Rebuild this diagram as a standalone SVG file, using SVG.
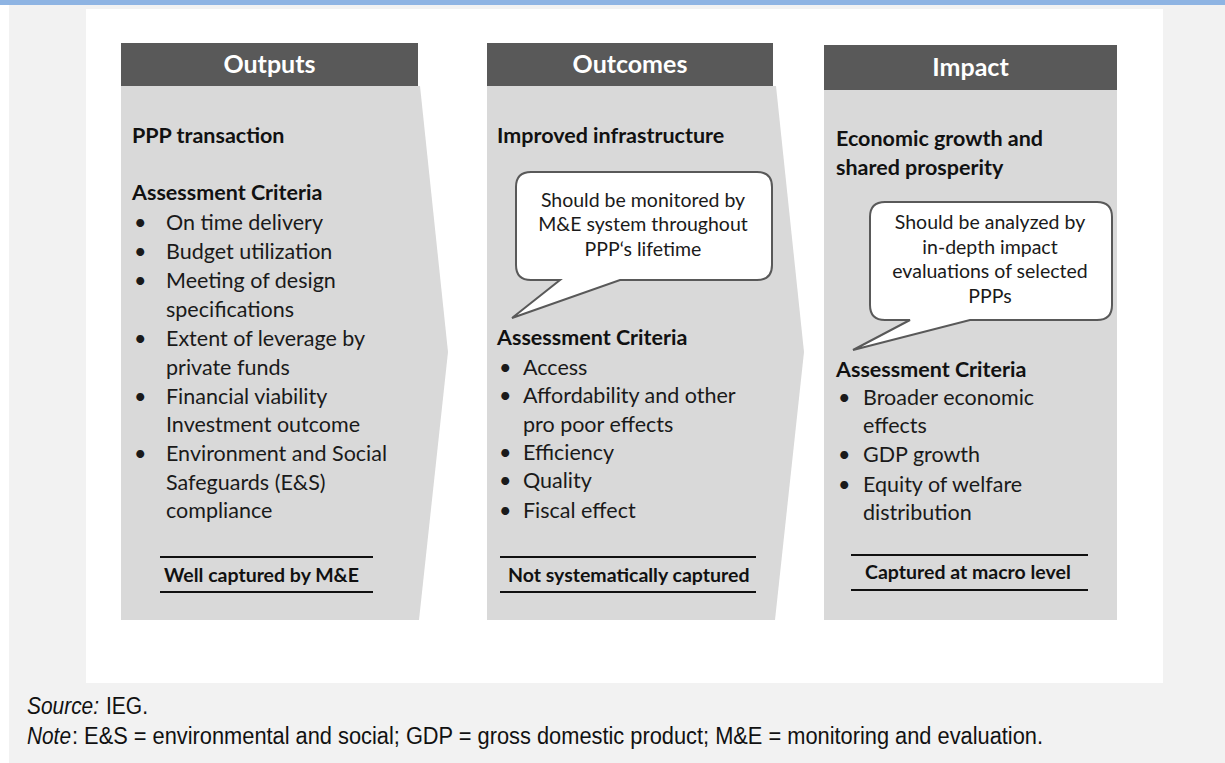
<svg xmlns="http://www.w3.org/2000/svg" width="1225" height="763" viewBox="0 0 1225 763">
<style>
.hdr{fill:#595959}
.body{fill:#d9d9d9}
.ht{font-family:Lato,"Open Sans",sans-serif;font-weight:bold;font-size:25px;fill:#ffffff;text-anchor:middle}
.b{font-family:Lato,"Open Sans",sans-serif;font-weight:bold;font-size:21.5px;fill:#111}
.t{font-family:Lato,"Open Sans",sans-serif;font-size:21.5px;fill:#1a1a1a}
.c{font-family:Lato,"Open Sans",sans-serif;font-size:19.5px;fill:#1a1a1a;text-anchor:middle}
.cap{font-family:Lato,"Open Sans",sans-serif;font-weight:bold;font-size:19.5px;fill:#111}
.bub{fill:#ffffff;stroke:#595959;stroke-width:2}
.rule{stroke:#111;stroke-width:2}
.foot{font-family:"Liberation Sans Narrow","Liberation Sans",sans-serif;font-size:23px;fill:#111}
.it{font-style:italic}
</style>
<rect x="0" y="0" width="1225" height="763" fill="#f2f2f2"/>
<rect x="0" y="5" width="9" height="758" fill="#ffffff"/>
<rect x="0" y="0" width="1225" height="5" fill="#8eb4e3"/>
<rect x="86" y="9" width="1077" height="674" fill="#ffffff"/>

<g id="outputs">
<polygon class="body" points="121,86 420,86 448,352 419,620 121,620"/>
<rect class="hdr" x="121" y="43" width="297" height="43"/>
<text class="ht" x="269.5" y="73">Outputs</text>
<text class="b" x="132" y="143">PPP transaction</text>
<text class="b" x="132" y="200">Assessment Criteria</text>
<g class="t">
<text x="134" y="230">•</text><text x="166" y="230">On time delivery</text>
<text x="134" y="259">•</text><text x="166" y="259">Budget utilization</text>
<text x="134" y="288">•</text><text x="166" y="288">Meeting of design</text>
<text x="166" y="317">specifications</text>
<text x="134" y="346">•</text><text x="166" y="346">Extent of leverage by</text>
<text x="166" y="375">private funds</text>
<text x="134" y="404">•</text><text x="166" y="404">Financial viability</text>
<text x="166" y="432">Investment outcome</text>
<text x="134" y="461">•</text><text x="166" y="461">Environment and Social</text>
<text x="166" y="490">Safeguards (E&amp;S)</text>
<text x="166" y="518">compliance</text>
</g>
<line class="rule" x1="160" y1="557" x2="373" y2="557"/>
<text class="cap" x="164" y="582">Well captured by M&amp;E</text>
<line class="rule" x1="160" y1="592" x2="373" y2="592"/>
</g>

<g id="outcomes">
<polygon class="body" points="487,86 776,86 804,352 775,620 487,620"/>
<rect class="hdr" x="487" y="43" width="286" height="43"/>
<text class="ht" x="630" y="73">Outcomes</text>
<text class="b" x="497" y="143">Improved infrastructure</text>
<path class="bub" d="M531,172 H757 Q772,172 772,187 V265 Q772,280 757,280 H620 L512,318 L560,280 H531 Q516,280 516,265 V187 Q516,172 531,172 Z"/>
<text class="c" x="643" y="207">Should be monitored by</text>
<text class="c" x="643" y="231">M&amp;E system throughout</text>
<text class="c" x="643" y="256">PPP‘s lifetime</text>
<text class="b" x="497" y="345">Assessment Criteria</text>
<g class="t">
<text x="499" y="375">•</text><text x="523" y="375">Access</text>
<text x="499" y="403">•</text><text x="523" y="403">Affordability and other</text>
<text x="523" y="432">pro poor effects</text>
<text x="499" y="460">•</text><text x="523" y="460">Efficiency</text>
<text x="499" y="488">•</text><text x="523" y="488">Quality</text>
<text x="499" y="518">•</text><text x="523" y="518">Fiscal effect</text>
</g>
<line class="rule" x1="500" y1="557" x2="756" y2="557"/>
<text class="cap" x="508" y="582">Not systematically captured</text>
<line class="rule" x1="500" y1="592" x2="756" y2="592"/>
</g>

<g id="impact">
<rect class="body" x="824" y="90" width="293" height="530"/>
<rect class="hdr" x="824" y="45" width="293" height="45"/>
<text class="ht" x="970.5" y="76">Impact</text>
<text class="b" x="836" y="146">Economic growth and</text>
<text class="b" x="836" y="175">shared prosperity</text>
<path class="bub" d="M885,202 H1097 Q1112,202 1112,217 V305 Q1112,320 1097,320 H970 L853,350 L910,320 H885 Q870,320 870,305 V217 Q870,202 885,202 Z"/>
<text class="c" x="990" y="229">Should be analyzed by</text>
<text class="c" x="990" y="254">in-depth impact</text>
<text class="c" x="990" y="278">evaluations of selected</text>
<text class="c" x="990" y="303">PPPs</text>
<text class="b" x="836" y="377">Assessment Criteria</text>
<g class="t">
<text x="838" y="405">•</text><text x="863" y="405">Broader economic</text>
<text x="863" y="433">effects</text>
<text x="838" y="462">•</text><text x="863" y="462">GDP growth</text>
<text x="838" y="492">•</text><text x="863" y="492">Equity of welfare</text>
<text x="863" y="520">distribution</text>
</g>
<line class="rule" x1="851" y1="555" x2="1088" y2="555"/>
<text class="cap" x="865" y="579">Captured at macro level</text>
<line class="rule" x1="851" y1="590" x2="1088" y2="590"/>
</g>

<g id="footer">
<text class="foot it" x="27" y="714" textLength="72" lengthAdjust="spacingAndGlyphs">Source:</text>
<text class="foot" x="106" y="714" textLength="42" lengthAdjust="spacingAndGlyphs">IEG.</text>
<text class="foot it" x="27" y="744" textLength="44" lengthAdjust="spacingAndGlyphs">Note</text>
<text class="foot" x="72" y="744" textLength="971" lengthAdjust="spacingAndGlyphs">: E&amp;S = environmental and social; GDP = gross domestic product; M&amp;E = monitoring and evaluation.</text>
</g>
</svg>
